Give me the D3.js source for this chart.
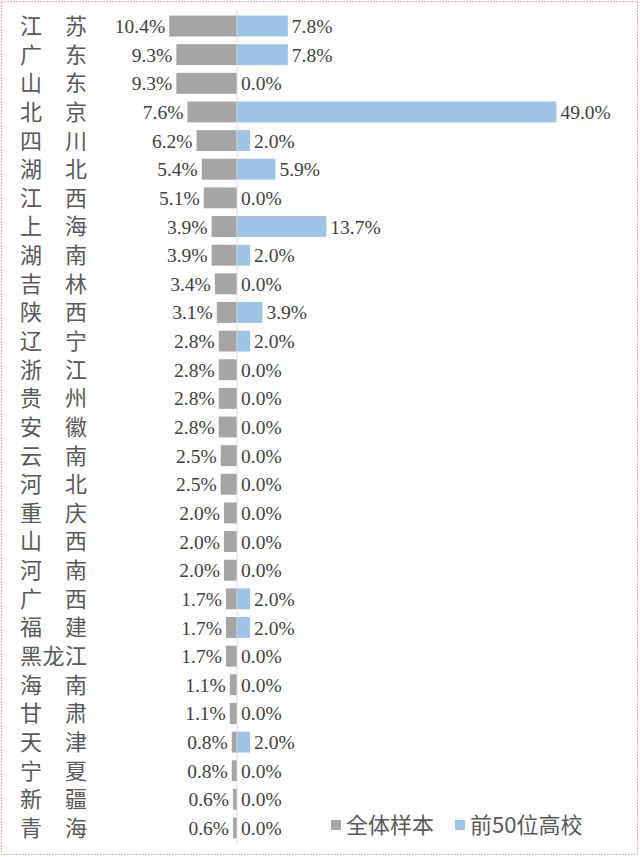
<!DOCTYPE html>
<html>
<head>
<meta charset="utf-8">
<script src="https://cdn.jsdelivr.net/npm/d3@7"></script>
<style>
  body { margin: 0; background: #fff; }
  .name { font-family: "Noto Sans CJK SC", sans-serif; font-size: 22px; fill: #595959; }
  .val { font-family: "Liberation Serif", "Times New Roman", serif; font-size: 19.5px; fill: #404040; }
  .legend { font-family: "Noto Sans CJK SC", sans-serif; font-size: 22px; fill: #595959; }
</style>
</head>
<body>
<svg id="chart" width="640" height="857"></svg>
<script>
// provinces, top to bottom
const provinces = ["江苏","广东","山东","北京","四川","湖北","江西","上海","湖南","吉林",
                   "陕西","辽宁","浙江","贵州","安徽","云南","河北","重庆","山西","河南",
                   "广西","福建","黑龙江","海南","甘肃","天津","宁夏","新疆","青海"]
// 全体样本 (%)
const allSample = [10.4,9.3,9.3,7.6,6.2,5.4,5.1,3.9,3.9,3.4,
                   3.1,2.8,2.8,2.8,2.8,2.5,2.5,2.0,2.0,2.0,
                   1.7,1.7,1.7,1.1,1.1,0.8,0.8,0.6,0.6]
// 前50位高校 (%)
const top50 = [7.8,7.8,0.0,49.0,2.0,5.9,0.0,13.7,2.0,0.0,
               3.9,2.0,0.0,0.0,0.0,0.0,0.0,0.0,0.0,0.0,
               2.0,2.0,0.0,0.0,0.0,2.0,0.0,0.0,0.0]
const seriesNames = ["全体样本","前50位高校"]
const seriesColors = ["#a5a5a5","#9dc3e6"]

const svg = d3.select("#chart")

// dotted frame
svg.append("rect")
    .attr("x",1.5).attr("y",1.5).attr("width",636).attr("height",853)
    .attr("fill","none").attr("stroke","#e39a9a").attr("stroke-width",1.2)
    .attr("stroke-dasharray","1.5,1.5")

let yScale = d3.scaleBand().domain(provinces).range([11.7, 842.3]).paddingInner(0.27).paddingOuter(0.135)
// negative side for 全体样本, positive side for 前50位高校
let xScale = d3.scaleLinear().domain([-11, 50]).range([237 - 11*6.52, 237 + 50*6.52])
let x0 = xScale(0)

// gray bars (left)
svg.selectAll(".barL")
    .data(provinces)
    .enter()
    .append("rect")
    .attr("class","barL")
    .attr("x",(d,i) => xScale(-allSample[i]))
    .attr("y",d => yScale(d))
    .attr("width",(d,i) => x0 - xScale(-allSample[i]))
    .attr("height",yScale.bandwidth())
    .attr("fill",seriesColors[0])

// blue bars (right)
svg.selectAll(".barR")
    .data(provinces)
    .enter()
    .append("rect")
    .attr("class","barR")
    .attr("x",x0)
    .attr("y",d => yScale(d))
    .attr("width",(d,i) => xScale(top50[i]) - x0)
    .attr("height",yScale.bandwidth())
    .attr("fill",seriesColors[1])

// centre axis line
svg.append("line")
    .attr("x1",x0).attr("x2",x0)
    .attr("y1",yScale.range()[0] - 2).attr("y2",yScale.range()[1] + 2)
    .attr("stroke","#d9d9d9").attr("stroke-width",1)

// value labels
svg.selectAll(".valL")
    .data(provinces)
    .enter()
    .append("text")
    .attr("class","val")
    .attr("x",(d,i) => xScale(-allSample[i]) - 4)
    .attr("y",d => yScale(d) + yScale.bandwidth()/2)
    .attr("dy","0.36em")
    .attr("text-anchor","end")
    .text((d,i) => allSample[i].toFixed(1) + "%")

svg.selectAll(".valR")
    .data(provinces)
    .enter()
    .append("text")
    .attr("class","val")
    .attr("x",(d,i) => xScale(top50[i]) + 4)
    .attr("y",d => yScale(d) + yScale.bandwidth()/2)
    .attr("dy","0.36em")
    .attr("text-anchor","start")
    .text((d,i) => top50[i].toFixed(1) + "%")

// province names, characters spread across the label column
provinces.forEach(function (name, i) {
    let chars = Array.from(name)
    let cx = d3.scaleLinear().domain([0, chars.length - 1]).range([31, 76])
    let g = svg.append("g")
        .attr("transform", `translate(0,${yScale(name) + yScale.bandwidth()/2})`)
    chars.forEach(function (c, j) {
        g.append("text").attr("class","name")
            .attr("x", cx(j)).attr("dy","0.36em")
            .attr("text-anchor","middle")
            .text(c)
    })
})

// legend
let legendX = [331, 455]
seriesNames.forEach(function (d, i) {
    let lg = svg.append("g").attr("transform", `translate(${legendX[i]},${825})`)
    lg.append("rect").attr("x",0).attr("y",-5).attr("width",10).attr("height",10)
        .attr("fill",seriesColors[i])
    lg.append("text").attr("class","legend").attr("x",15).attr("dy","0.36em").text(d)
})
</script>
</body>
</html>
